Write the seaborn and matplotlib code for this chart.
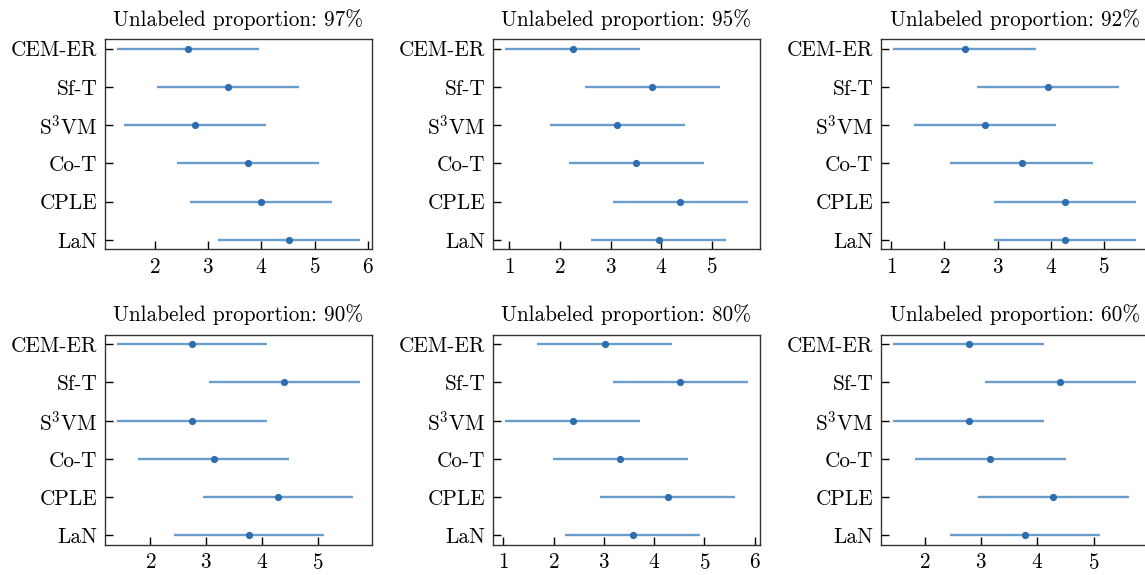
import numpy as np
import pandas as pd
import seaborn as sns
import matplotlib.pyplot as plt
from matplotlib.ticker import MultipleLocator

# average ranks per method, one list per unlabeled proportion
methods = ["CEM-ER", "Sf-T", "S$^3$VM", "Co-T", "CPLE", "LaN"]
proportions = ["97%", "95%", "92%", "90%", "80%", "60%"]
rank_97 = [2.63, 3.38, 2.76, 3.75, 4.00, 4.51]
rank_95 = [2.25, 3.82, 3.13, 3.50, 4.37, 3.95]
rank_92 = [2.38, 3.95, 2.76, 3.45, 4.26, 4.26]
rank_90 = [2.75, 4.40, 2.75, 3.13, 4.28, 3.77]
rank_80 = [3.02, 4.52, 2.38, 3.33, 4.27, 3.57]
rank_60 = [2.78, 4.41, 2.78, 3.16, 4.28, 3.78]
# half of the critical difference interval
half_width = [1.33, 1.33, 1.335, 1.345, 1.345, 1.34]

ranks = [rank_97, rank_95, rank_92, rank_90, rank_80, rank_60]

sns.set_style("ticks")
plt.rcParams.update({
    "font.family": "serif",
    "font.serif": ["cmr10"],
    "mathtext.fontset": "cm",
    "axes.formatter.use_mathtext": True,
    "font.size": 15.3,
    "axes.titlesize": 15.3,
    "axes.edgecolor": "#333333",
    "axes.linewidth": 1.0,
    "text.color": "black",
    "xtick.color": "black",
    "ytick.color": "black",
})

line_color = "#4f8dc4"
dot_color = "#2d6fae"

fig, axes = plt.subplots(2, 3, figsize=(11.45, 5.75), dpi=100)
fig.subplots_adjust(left=0.0917, right=1.0026, bottom=0.0522, top=0.9322,
                    wspace=0.455, hspace=0.405)

for ax, prop, r, hw in zip(axes.flat, proportions, ranks, half_width):
    df = pd.DataFrame({"method": methods, "rank": r})
    lo = np.array(r) - hw
    hi = np.array(r) + hw
    sns.pointplot(data=df, x="rank", y="method", order=methods, ax=ax,
                  errorbar=None, linestyle="none", markers="o",
                  markersize=5.2, markeredgewidth=0, color=dot_color, zorder=3)
    ax.hlines(np.arange(len(methods)), lo, hi, color=line_color,
              linewidth=1.7, alpha=0.85, zorder=2)
    span = hi.max() - lo.min()
    ax.set_xlim(lo.min() - 0.05 * span, hi.max() + 0.05 * span)
    ax.set_ylim(len(methods) - 0.75, -0.25)
    ax.set_xlabel("")
    ax.set_ylabel("")
    ax.set_title(f"Unlabeled proportion: {prop}", pad=9.5)
    ax.xaxis.set_major_locator(MultipleLocator(1))
    ax.tick_params(direction="in", length=5.8, width=1.0, pad=5.5,
                   top=False, right=False)
    for s in ax.spines.values():
        s.set_visible(True)
        s.set_linewidth(1.0)
        s.set_color("#333333")

fig.savefig("out.png", dpi=100)
